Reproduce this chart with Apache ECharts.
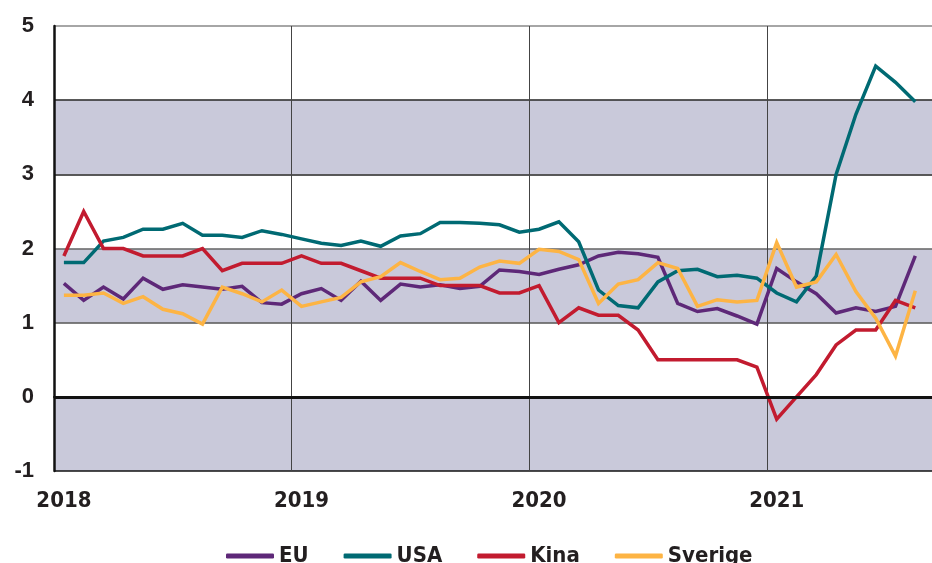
<!DOCTYPE html>
<html>
<head>
<meta charset="utf-8">
<script src="https://cdn.jsdelivr.net/npm/echarts@6/dist/echarts.min.js"></script>
<style>
  html, body { margin: 0; padding: 0; background: #fff; overflow: hidden; }
  /* plot area runs slightly past the right edge of the window */
  #divChart { width: 945px; height: 563px; }
</style>
</head>
<body>
<div id="divChart"></div>
<script>
var years = ['2018', '2019', '2020', '2021'];
var yTicks = [-1, 0, 1, 2, 3, 4, 5];

var eu = [1.53, 1.30, 1.48, 1.32, 1.60, 1.45, 1.51, 1.48, 1.45, 1.49, 1.27, 1.25,
          1.39, 1.46, 1.30, 1.56, 1.30, 1.52, 1.48, 1.51, 1.46, 1.49, 1.71, 1.69,
          1.65, 1.72, 1.78, 1.90, 1.95, 1.93, 1.88, 1.26, 1.15, 1.19, 1.09, 0.98,
          1.73, 1.55, 1.39, 1.13, 1.20, 1.15, 1.22, 1.90];
var usa = [1.81, 1.81, 2.10, 2.15, 2.26, 2.26, 2.34, 2.18, 2.18, 2.15, 2.24, 2.19,
           2.13, 2.07, 2.04, 2.10, 2.03, 2.17, 2.20, 2.35, 2.35, 2.34, 2.32, 2.22,
           2.26, 2.36, 2.09, 1.44, 1.23, 1.20, 1.55, 1.70, 1.72, 1.62, 1.64, 1.60,
           1.40, 1.28, 1.63, 3.00, 3.81, 4.46, 4.24, 3.98];
var kina = [1.9, 2.5, 2.0, 2.0, 1.9, 1.9, 1.9, 2.0, 1.7, 1.8, 1.8, 1.8,
            1.9, 1.8, 1.8, 1.7, 1.6, 1.6, 1.6, 1.5, 1.5, 1.5, 1.4, 1.4,
            1.5, 1.0, 1.2, 1.1, 1.1, 0.9, 0.5, 0.5, 0.5, 0.5, 0.5, 0.4,
            -0.3, 0.0, 0.3, 0.7, 0.9, 0.9, 1.3, 1.2];
var sverige = [1.37, 1.37, 1.40, 1.26, 1.35, 1.18, 1.12, 0.98, 1.48, 1.39, 1.28, 1.44,
               1.22, 1.28, 1.34, 1.55, 1.62, 1.81, 1.69, 1.58, 1.60, 1.75, 1.83, 1.80,
               1.99, 1.96, 1.85, 1.26, 1.52, 1.58, 1.81, 1.73, 1.22, 1.31, 1.28, 1.30,
               2.08, 1.48, 1.55, 1.92, 1.42, 1.06, 0.55, 1.43];

var myChart;
var condensed = '"DejaVu Sans Condensed", "Liberation Sans Narrow", "Arial Narrow", sans-serif';

function buildMonths() {
    var result = [];
    for (var y = 0; y < years.length; y++) {
        for (var m = 1; m <= 12; m++) {
            result.push(years[y] + '-' + (m < 10 ? '0' + m : m));
        }
    }
    // one empty month after the last value
    return result.slice(0, eu.length + 1);
}

function lineSeries(name, data, color) {
    return {
        name: name,
        type: 'line',
        data: data,
        symbol: 'none',
        lineStyle: { color: color, width: 3.5, join: 'miter' },
        itemStyle: { color: color }
    };
}

function initChart() {
    var months = buildMonths();
    var series = [
        lineSeries('EU', eu, '#5e2878'),
        lineSeries('USA', usa, '#006a73'),
        lineSeries('Kina', kina, '#c21b2f'),
        lineSeries('Sverige', sverige, '#fdb444')
    ];
    // thick zero line
    series[0].markLine = {
        silent: true,
        symbol: 'none',
        label: { show: false },
        lineStyle: { color: '#111', width: 3, type: 'solid' },
        data: [{ yAxis: 0 }]
    };

    var option = {
        backgroundColor: '#fff',
        animation: false,
        grid: { left: 54, right: 0, top: 26, bottom: 92 },
        legend: {
            data: ['EU', 'USA', 'Kina', 'Sverige'],
            top: 540,
            left: 221,
            icon: 'roundRect',
            itemWidth: 48,
            itemHeight: 5,
            itemGap: 35,
            textStyle: {
                fontFamily: condensed,
                fontWeight: 'bold',
                fontSize: 22,
                color: '#231f20'
            }
        },
        xAxis: {
            type: 'category',
            data: months,
            boundaryGap: true,
            axisLine: { show: true, lineStyle: { color: '#111', width: 2 } },
            axisTick: { show: false },
            axisLabel: {
                interval: function (i) { return i % 12 === 0; },
                formatter: function (v) { return v.substring(0, 4); },
                margin: 19,
                fontFamily: condensed,
                fontWeight: 'bold',
                fontSize: 22,
                color: '#231f20'
            },
            splitLine: {
                show: true,
                interval: function (i) { return i % 12 === 0; },
                lineStyle: { color: '#444', width: 1 }
            }
        },
        yAxis: {
            type: 'value',
            min: yTicks[0],
            max: yTicks[yTicks.length - 1],
            interval: 1,
            axisLine: { show: true, lineStyle: { color: '#111', width: 2.5 } },
            axisTick: { show: false },
            axisLabel: {
                margin: 20,
                fontFamily: 'Liberation Sans',
                fontWeight: 'bold',
                fontSize: 22,
                color: '#231f20'
            },
            splitLine: {
                show: true,
                lineStyle: {
                    color: ['#111', '#111', '#555', '#666', '#222', '#222', '#888'],
                    width: 1.5
                }
            },
            splitArea: {
                show: true,
                areaStyle: { color: ['#c9c9da', '#ffffff'] }
            }
        },
        series: series
    };
    myChart.setOption(option);
}

myChart = echarts.init(document.getElementById('divChart'));
initChart();
</script>
</body>
</html>
